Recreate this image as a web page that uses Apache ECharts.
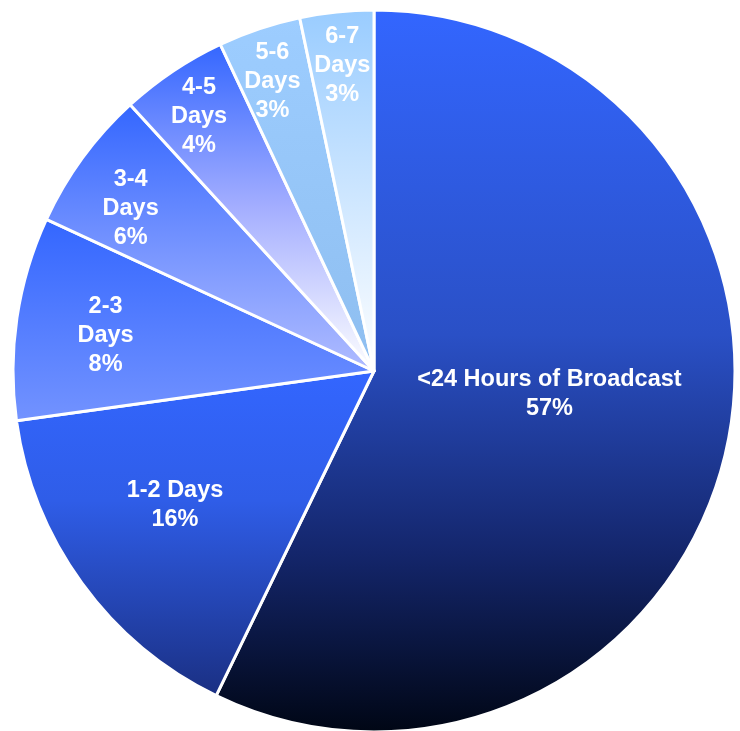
<!DOCTYPE html>
<html>
<head>
<meta charset="utf-8">
<script src="https://cdn.jsdelivr.net/npm/echarts@6/dist/echarts.min.js"></script>
<style>
  html, body { margin: 0; padding: 0; background: #ffffff; }
  #chart { width: 740px; height: 731px; }
</style>
</head>
<body>
<div id="chart"></div>
<script>
// ---- data ----
var categories = ['<24 Hours of Broadcast', '1-2 Days', '2-3 Days', '3-4 Days', '4-5 Days', '5-6 Days', '6-7 Days'];
var shares = [57.2, 15.6, 9.1, 6.3, 4.8, 3.7, 3.3];
var percentLabels = ['57%', '16%', '8%', '6%', '4%', '3%', '3%'];

// ---- style ----
var gradients = [
  [[0, '#3366ff'], [0.45, '#2a50c6'], [0.75, '#14266c'], [1, '#000614']],
  [[0, '#3366ff'], [0.4, '#2f5de8'], [1, '#1a2f82']],
  [[0, '#3366ff'], [1, '#7393ff']],
  [[0, '#3366ff'], [1, '#b0bcff']],
  [[0, '#3366ff'], [0.5, '#a4aeff'], [1, '#ffffff']],
  [[0, '#9dcdff'], [1, '#8ebef0']],
  [[0, '#99ccff'], [1, '#ffffff']]
];
var wrapName = [false, false, true, true, true, true, true];
// label placement in polar terms: [radius fraction, angle shift in degrees]
var labelPolar = [[0.49, -5.5], [0.665, 2], [0.75, -1], [0.81, -2.5], [0.855, -0.7], [0.85, -0.8], [0.85, 0]];

var CX = 374, CY = 371, R = 361;

var total = shares.reduce(function (a, b) { return a + b; }, 0);
var midAngles = [];
var acc = 0;
shares.forEach(function (v) {
  midAngles.push((acc + v / 2) / total * 360);
  acc += v;
});

var seriesData = categories.map(function (name, i) {
  return {
    name: name,
    value: shares[i],
    itemStyle: {
      color: new echarts.graphic.LinearGradient(0, 0, 0, 1,
        gradients[i].map(function (s) { return { offset: s[0], color: s[1] }; }))
    }
  };
});

var chart = echarts.init(document.getElementById('chart'), null, { renderer: 'canvas' });
chart.setOption({
  animation: false,
  backgroundColor: '#ffffff',
  series: [{
    type: 'pie',
    center: [CX, CY],
    radius: [0, R],
    startAngle: 90,
    clockwise: true,
    avoidLabelOverlap: false,
    data: seriesData,
    itemStyle: { borderColor: '#ffffff', borderWidth: 3 },
    label: {
      show: true,
      position: 'inside',
      color: '#ffffff',
      fontFamily: "'Liberation Sans', Arial, sans-serif",
      fontWeight: 'bold',
      fontSize: 23.5,
      lineHeight: 29,
      align: 'center',
      formatter: function (p) {
        var n = wrapName[p.dataIndex] ? p.name.replace(' ', '\n') : p.name;
        return n + '\n' + percentLabels[p.dataIndex];
      }
    },
    labelLine: { show: false },
    labelLayout: function (p) {
      var i = p.dataIndex;
      var a = (midAngles[i] + labelPolar[i][1]) * Math.PI / 180;
      var r = labelPolar[i][0] * R;
      return {
        x: CX + r * Math.sin(a),
        y: CY - r * Math.cos(a),
        align: 'center',
        verticalAlign: 'middle'
      };
    },
    emphasis: { disabled: true }
  }]
});
</script>
</body>
</html>
